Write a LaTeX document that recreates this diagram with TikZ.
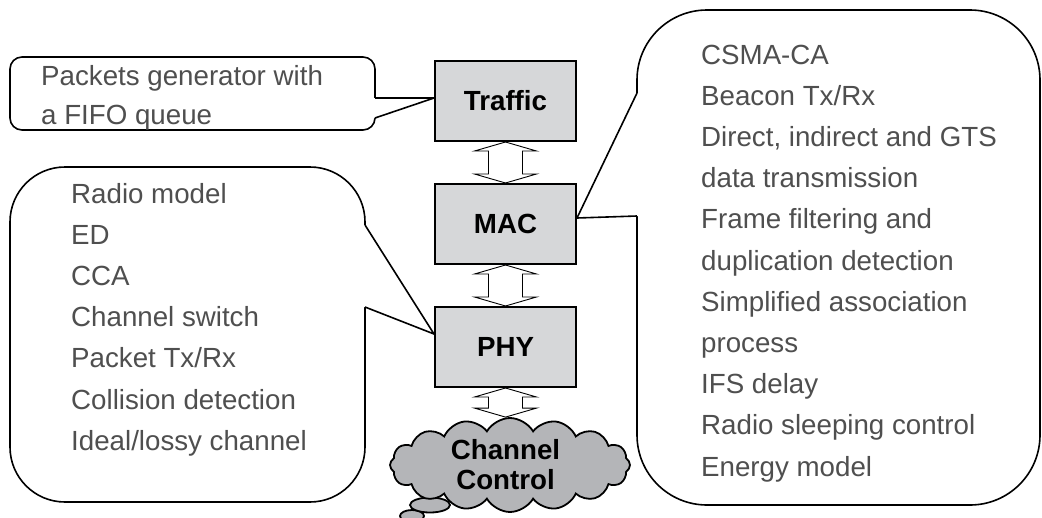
\documentclass[tikz,border=0pt]{standalone}
\usepackage{fontspec}
\setmainfont{Liberation Sans}
\usetikzlibrary{shapes.symbols, positioning, calc, backgrounds}
\definecolor{boxgray}{HTML}{D6D7D9}
\definecolor{cloudgray}{HTML}{B4B5B8}
\definecolor{notegray}{HTML}{4F4F4F}
\tikzset{
    layerbox/.style={
        rectangle,
        draw=black,
        line width=2pt,
        fill=boxgray,
        minimum width=141pt,
        minimum height=80pt,
        align=center,
        font=\fontsize{27.7}{30}\selectfont\bfseries
    },
    chancloud/.style={
        cloud,
        cloud puffs=16,
        cloud puff arc=120,
        cloud ignores aspect,
        draw=black,
        line width=1.8pt,
        fill=cloudgray,
        minimum width=240pt,
        minimum height=94pt
    },
    bubble/.style={
        draw=black,
        line width=1.8pt,
        fill=cloudgray
    },
    updown/.style={
        draw=black,
        line width=0.9pt,
        fill=white
    },
    notebox/.style={
        draw=black,
        line width=1.6pt,
        fill=white
    },
    notetail/.style={
        draw=black,
        line width=1.6pt
    },
    notetext/.style={
        anchor=north west,
        inner sep=0pt,
        align=left,
        text=notegray,
        font=\fontsize{27.7}{41.2}\selectfont
    }
}

\begin{document}
\begin{tikzpicture}[x=1pt, y=-1pt]

    \useasboundingbox (0,0) rectangle (1042,517);

    % Protocol stack
    \node[layerbox] (traffic) at (505.5,101) {Traffic};
    \node[layerbox, below=41pt of traffic] (mac) {MAC};
    \node[layerbox, below=41pt of mac] (phy) {PHY};

    % Channel
    \draw[bubble] (412,516) ellipse [x radius=12pt, y radius=6pt];
    \draw[bubble] (430,505) ellipse [x radius=20pt, y radius=7.5pt];
    \node[chancloud] (chan) at (510,465) {};
    \node[layerbox, draw=none, fill=none] (chanlabel) at (505.5,465) {Channel\\Control};

    % Double arrows between layers
    \draw[updown] (traffic.south) -- ++(31,9) -- ++(-14,0) -- ($(mac.north)+(17,-9)$) -- ++(14,0) -- (mac.north) -- ++(-31,-9) -- ++(14,0) -- ($(traffic.south)+(-17,9)$) -- ++(-14,0) -- cycle;
    \draw[updown] (mac.south) -- ++(31,9) -- ++(-14,0) -- ($(phy.north)+(17,-9)$) -- ++(14,0) -- (phy.north) -- ++(-31,-9) -- ++(14,0) -- ($(mac.south)+(-17,9)$) -- ++(-14,0) -- cycle;
    \draw[updown] (phy.south) -- ++(31,9) -- ++(-14,0) -- ($(phy.south |- chan.north)+(17,-9)$) -- ++(14,0) -- (phy.south |- chan.north) -- ++(-31,-9) -- ++(14,0) -- ($(phy.south)+(-17,9)$) -- ++(-14,0) -- cycle;

    % Notes
    \begin{scope}[on background layer]
        % Traffic note
        \draw[notebox, rounded corners=12pt] (10,57) rectangle (375,130);
        \fill[white] (370,98) -- (375,98) -- ($(traffic.west)+(0,-3)$) -- (375,118) -- (370,118) -- cycle;
        \draw[notetail] (375,98) -- ($(traffic.west)+(0,-3)$) -- (375,118);

        % PHY note
        \draw[notebox, rounded corners=55pt] (10,167) rectangle (365,502);
        \fill[white] (360,225) -- (365,225) -- ($(phy.west)+(0,-13)$) -- (365,307) -- (360,307) -- cycle;
        \draw[notetail] (365,225) -- ($(phy.west)+(0,-13)$) -- (365,307);

        % MAC note
        \draw[notebox, rounded corners=70pt] (637,10) rectangle (1040,505);
        \fill[white] (642,93) -- (637,93) -- ($(mac.east)+(0,-6)$) -- (637,216) -- (642,216) -- cycle;
        \draw[notetail] (637,93) -- ($(mac.east)+(0,-6)$) -- (637,216);
    \end{scope}

    \node[notetext, font=\fontsize{27.7}{39}\selectfont] (trafficnote) at (41,58) {\strut Packets generator with\\a FIFO queue};
    \node[notetext] (phynote) at (71,174) {\strut Radio model\\ED\\CCA\\Channel switch\\Packet Tx/Rx\\Collision detection\\Ideal/lossy channel};
    \node[notetext] (macnote) at (701,35) {\strut CSMA-CA\\Beacon Tx/Rx\\Direct, indirect and GTS\\data transmission\\Frame filtering and\\duplication detection\\Simplified association\\process\\IFS delay\\Radio sleeping control\\Energy model};

\end{tikzpicture}
\end{document}
